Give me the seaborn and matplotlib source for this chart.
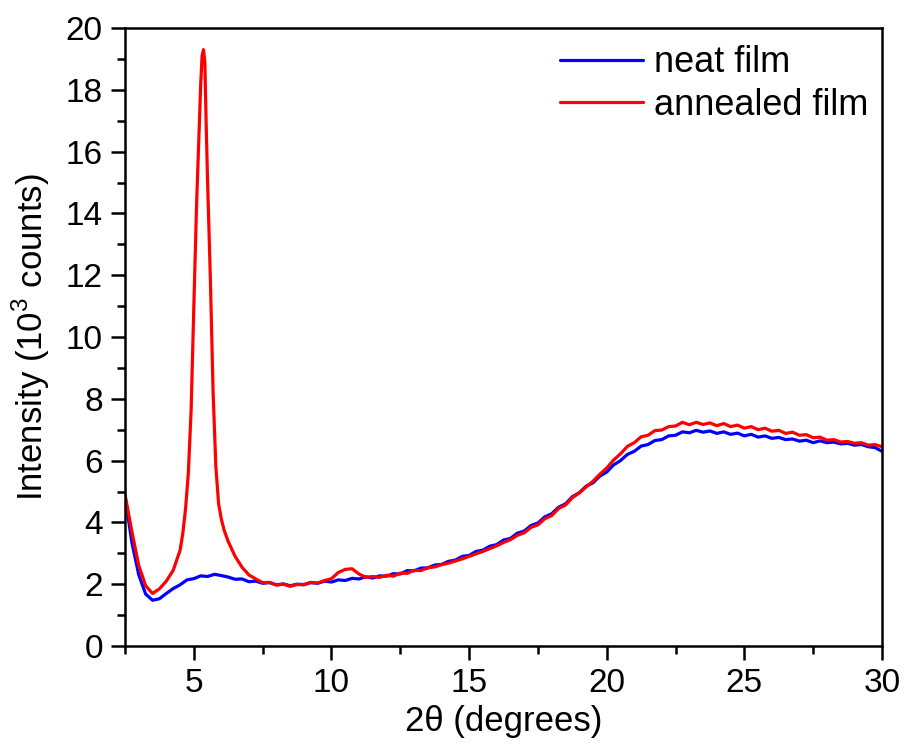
import numpy as np
import pandas as pd
import matplotlib
matplotlib.use("Agg")
import matplotlib.pyplot as plt
import seaborn as sns
from matplotlib.ticker import MultipleLocator

# ---- data ----
neat_x = [2.5, 2.75, 3.0, 3.25, 3.5, 3.75, 4.0, 4.25, 4.5, 4.75,
          5.0, 5.25, 5.5, 5.75, 6.0, 6.25, 6.5, 6.75, 7.0, 7.25,
          7.5, 7.75, 8.0, 8.25, 8.5, 8.75, 9.0, 9.25, 9.5, 9.75,
          10.0, 10.25, 10.5, 10.75, 11.0, 11.25, 11.5, 11.75, 12.0, 12.25,
          12.5, 12.75, 13.0, 13.25, 13.5, 13.75, 14.0, 14.25, 14.5, 14.75,
          15.0, 15.25, 15.5, 15.75, 16.0, 16.25, 16.5, 16.75, 17.0, 17.25,
          17.5, 17.75, 18.0, 18.25, 18.5, 18.75, 19.0, 19.25, 19.5, 19.75,
          20.0, 20.25, 20.5, 20.75, 21.0, 21.25, 21.5, 21.75, 22.0, 22.25,
          22.5, 22.75, 23.0, 23.25, 23.5, 23.75, 24.0, 24.25, 24.5, 24.75,
          25.0, 25.25, 25.5, 25.75, 26.0, 26.25, 26.5, 26.75, 27.0, 27.25,
          27.5, 27.75, 28.0, 28.25, 28.5, 28.75, 29.0, 29.25, 29.5, 29.75,
          30.0]
neat_y = [4.85, 3.35, 2.3, 1.68, 1.48, 1.53, 1.7, 1.86, 1.98, 2.14,
          2.18, 2.27, 2.25, 2.32, 2.28, 2.23, 2.16, 2.17, 2.08, 2.1,
          2.03, 2.05, 1.98, 2.01, 1.95, 2.0, 1.99, 2.05, 2.03, 2.1,
          2.07, 2.14, 2.12, 2.19, 2.17, 2.24, 2.2, 2.27, 2.26, 2.34,
          2.33, 2.44, 2.43, 2.52, 2.53, 2.62, 2.64, 2.74, 2.78, 2.9,
          2.93, 3.06, 3.1, 3.23, 3.28, 3.43, 3.48, 3.65, 3.72, 3.9,
          3.98, 4.18, 4.28, 4.49, 4.6, 4.83, 4.96, 5.17, 5.28, 5.5,
          5.63, 5.86, 6.0, 6.2, 6.3, 6.47, 6.52, 6.65, 6.68, 6.8,
          6.82, 6.93, 6.9, 6.98, 6.92, 6.96, 6.88, 6.93, 6.85, 6.89,
          6.8, 6.85, 6.76, 6.8, 6.72, 6.75, 6.68, 6.7, 6.63, 6.66,
          6.58, 6.64, 6.58, 6.6, 6.54, 6.56, 6.5, 6.52, 6.45, 6.42,
          6.3]

annealed_x = [2.5, 2.75, 3.0, 3.25, 3.5, 3.75, 4.0, 4.25, 4.5, 4.6,
              4.7, 4.8, 4.9, 5.0, 5.1, 5.2, 5.25, 5.3, 5.35, 5.4,
              5.45, 5.5, 5.6, 5.7, 5.8, 5.9, 6.0, 6.1, 6.25, 6.5,
              6.75, 7.0, 7.25, 7.5, 7.75, 8.0, 8.25, 8.5, 8.75, 9.0,
              9.25, 9.5, 9.75, 10.0, 10.25, 10.5, 10.75, 11.0, 11.25, 11.5,
              11.75, 12.0, 12.25, 12.5, 12.75, 13.0, 13.25, 13.5, 13.75, 14.0,
              14.25, 14.5, 14.75, 15.0, 15.25, 15.5, 15.75, 16.0, 16.25, 16.5,
              16.75, 17.0, 17.25, 17.5, 17.75, 18.0, 18.25, 18.5, 18.75, 19.0,
              19.25, 19.5, 19.75, 20.0, 20.25, 20.5, 20.75, 21.0, 21.25, 21.5,
              21.75, 22.0, 22.25, 22.5, 22.75, 23.0, 23.25, 23.5, 23.75, 24.0,
              24.25, 24.5, 24.75, 25.0, 25.25, 25.5, 25.75, 26.0, 26.25, 26.5,
              26.75, 27.0, 27.25, 27.5, 27.75, 28.0, 28.25, 28.5, 28.75, 29.0,
              29.25, 29.5, 29.75, 30.0]
annealed_y = [4.9, 3.7, 2.6, 1.95, 1.7, 1.85, 2.1, 2.45, 3.1, 3.65,
              4.45, 5.6, 7.6, 11.0, 14.3, 16.9, 18.2, 19.1, 19.3, 18.9,
              16.8, 15.0, 11.9, 8.2, 5.8, 4.6, 4.1, 3.75, 3.38, 2.9,
              2.55, 2.3, 2.17, 2.05, 2.06, 1.97, 2.0, 1.93, 1.99, 1.98,
              2.06, 2.04, 2.12, 2.18, 2.38, 2.48, 2.5, 2.33, 2.22, 2.25,
              2.22, 2.29, 2.26, 2.36, 2.35, 2.45, 2.44, 2.53, 2.56, 2.63,
              2.68, 2.75, 2.82, 2.9, 2.98, 3.06, 3.15, 3.24, 3.35, 3.44,
              3.58, 3.66, 3.84, 3.92, 4.12, 4.22, 4.45, 4.56, 4.8, 4.95,
              5.15, 5.33, 5.56, 5.76, 6.02, 6.22, 6.46, 6.58, 6.77, 6.82,
              6.97, 6.99, 7.1, 7.12, 7.24, 7.16, 7.24, 7.17, 7.22, 7.13,
              7.2, 7.1, 7.15, 7.05, 7.1, 7.0, 7.05, 6.95, 6.98, 6.88,
              6.92, 6.82, 6.84, 6.74, 6.76, 6.66, 6.68, 6.6, 6.62, 6.56,
              6.58, 6.5, 6.52, 6.45]

series_names = ["neat film", "annealed film"]
series_colors = ["#0000FF", "#FF0000"]

df = pd.concat([
    pd.DataFrame({"x": neat_x, "y": neat_y, "sample": series_names[0]}),
    pd.DataFrame({"x": annealed_x, "y": annealed_y, "sample": series_names[1]}),
], ignore_index=True)

sns.set_theme(style="ticks")
plt.rcParams["font.family"] = ["Liberation Sans", "DejaVu Sans"]
plt.rcParams["mathtext.fontset"] = "custom"
plt.rcParams["mathtext.rm"] = "Liberation Sans"
plt.rcParams["text.color"] = "black"
plt.rcParams["axes.labelcolor"] = "black"
plt.rcParams["xtick.color"] = "black"
plt.rcParams["ytick.color"] = "black"

fig = plt.figure(figsize=(9.06, 7.47), dpi=100)
ax = fig.add_axes([0.138, 0.1352, 0.8355, 0.8273])

sns.lineplot(data=df, x="x", y="y", hue="sample", hue_order=series_names,
             palette=series_colors, linewidth=2.3, ax=ax, sort=False,
             estimator=None)

ax.set_xlim(2.5, 30)
ax.set_ylim(0, 20)
ax.xaxis.set_major_locator(MultipleLocator(5))
ax.xaxis.set_minor_locator(MultipleLocator(2.5))
ax.yaxis.set_major_locator(MultipleLocator(2))
ax.yaxis.set_minor_locator(MultipleLocator(1))
ax.tick_params(which="major", direction="out", length=10, width=1.8,
               labelsize=24, color="black", labelcolor="black", pad=6)
ax.tick_params(which="minor", direction="out", length=6, width=1.8,
               color="black")
ax.tick_params(top=False, right=False, which="both")
for s in ax.spines.values():
    s.set_linewidth(1.8)
    s.set_color("black")

ax.set_xlabel("2θ (degrees)", fontsize=25, labelpad=4, color="black")
ax.set_ylabel("Intensity (10$^3$ counts)", fontsize=25, labelpad=10,
              color="black")

leg = ax.legend(loc="upper right", frameon=False, fontsize=26,
                handlelength=2.3, handletextpad=0.3, labelspacing=0.2,
                borderaxespad=0.2, bbox_to_anchor=(1.011, 1.007))
for line in leg.get_lines():
    line.set_linewidth(2.3)
for t in leg.get_texts():
    t.set_color("black")

fig.savefig("out.png", dpi=100, facecolor="white")
